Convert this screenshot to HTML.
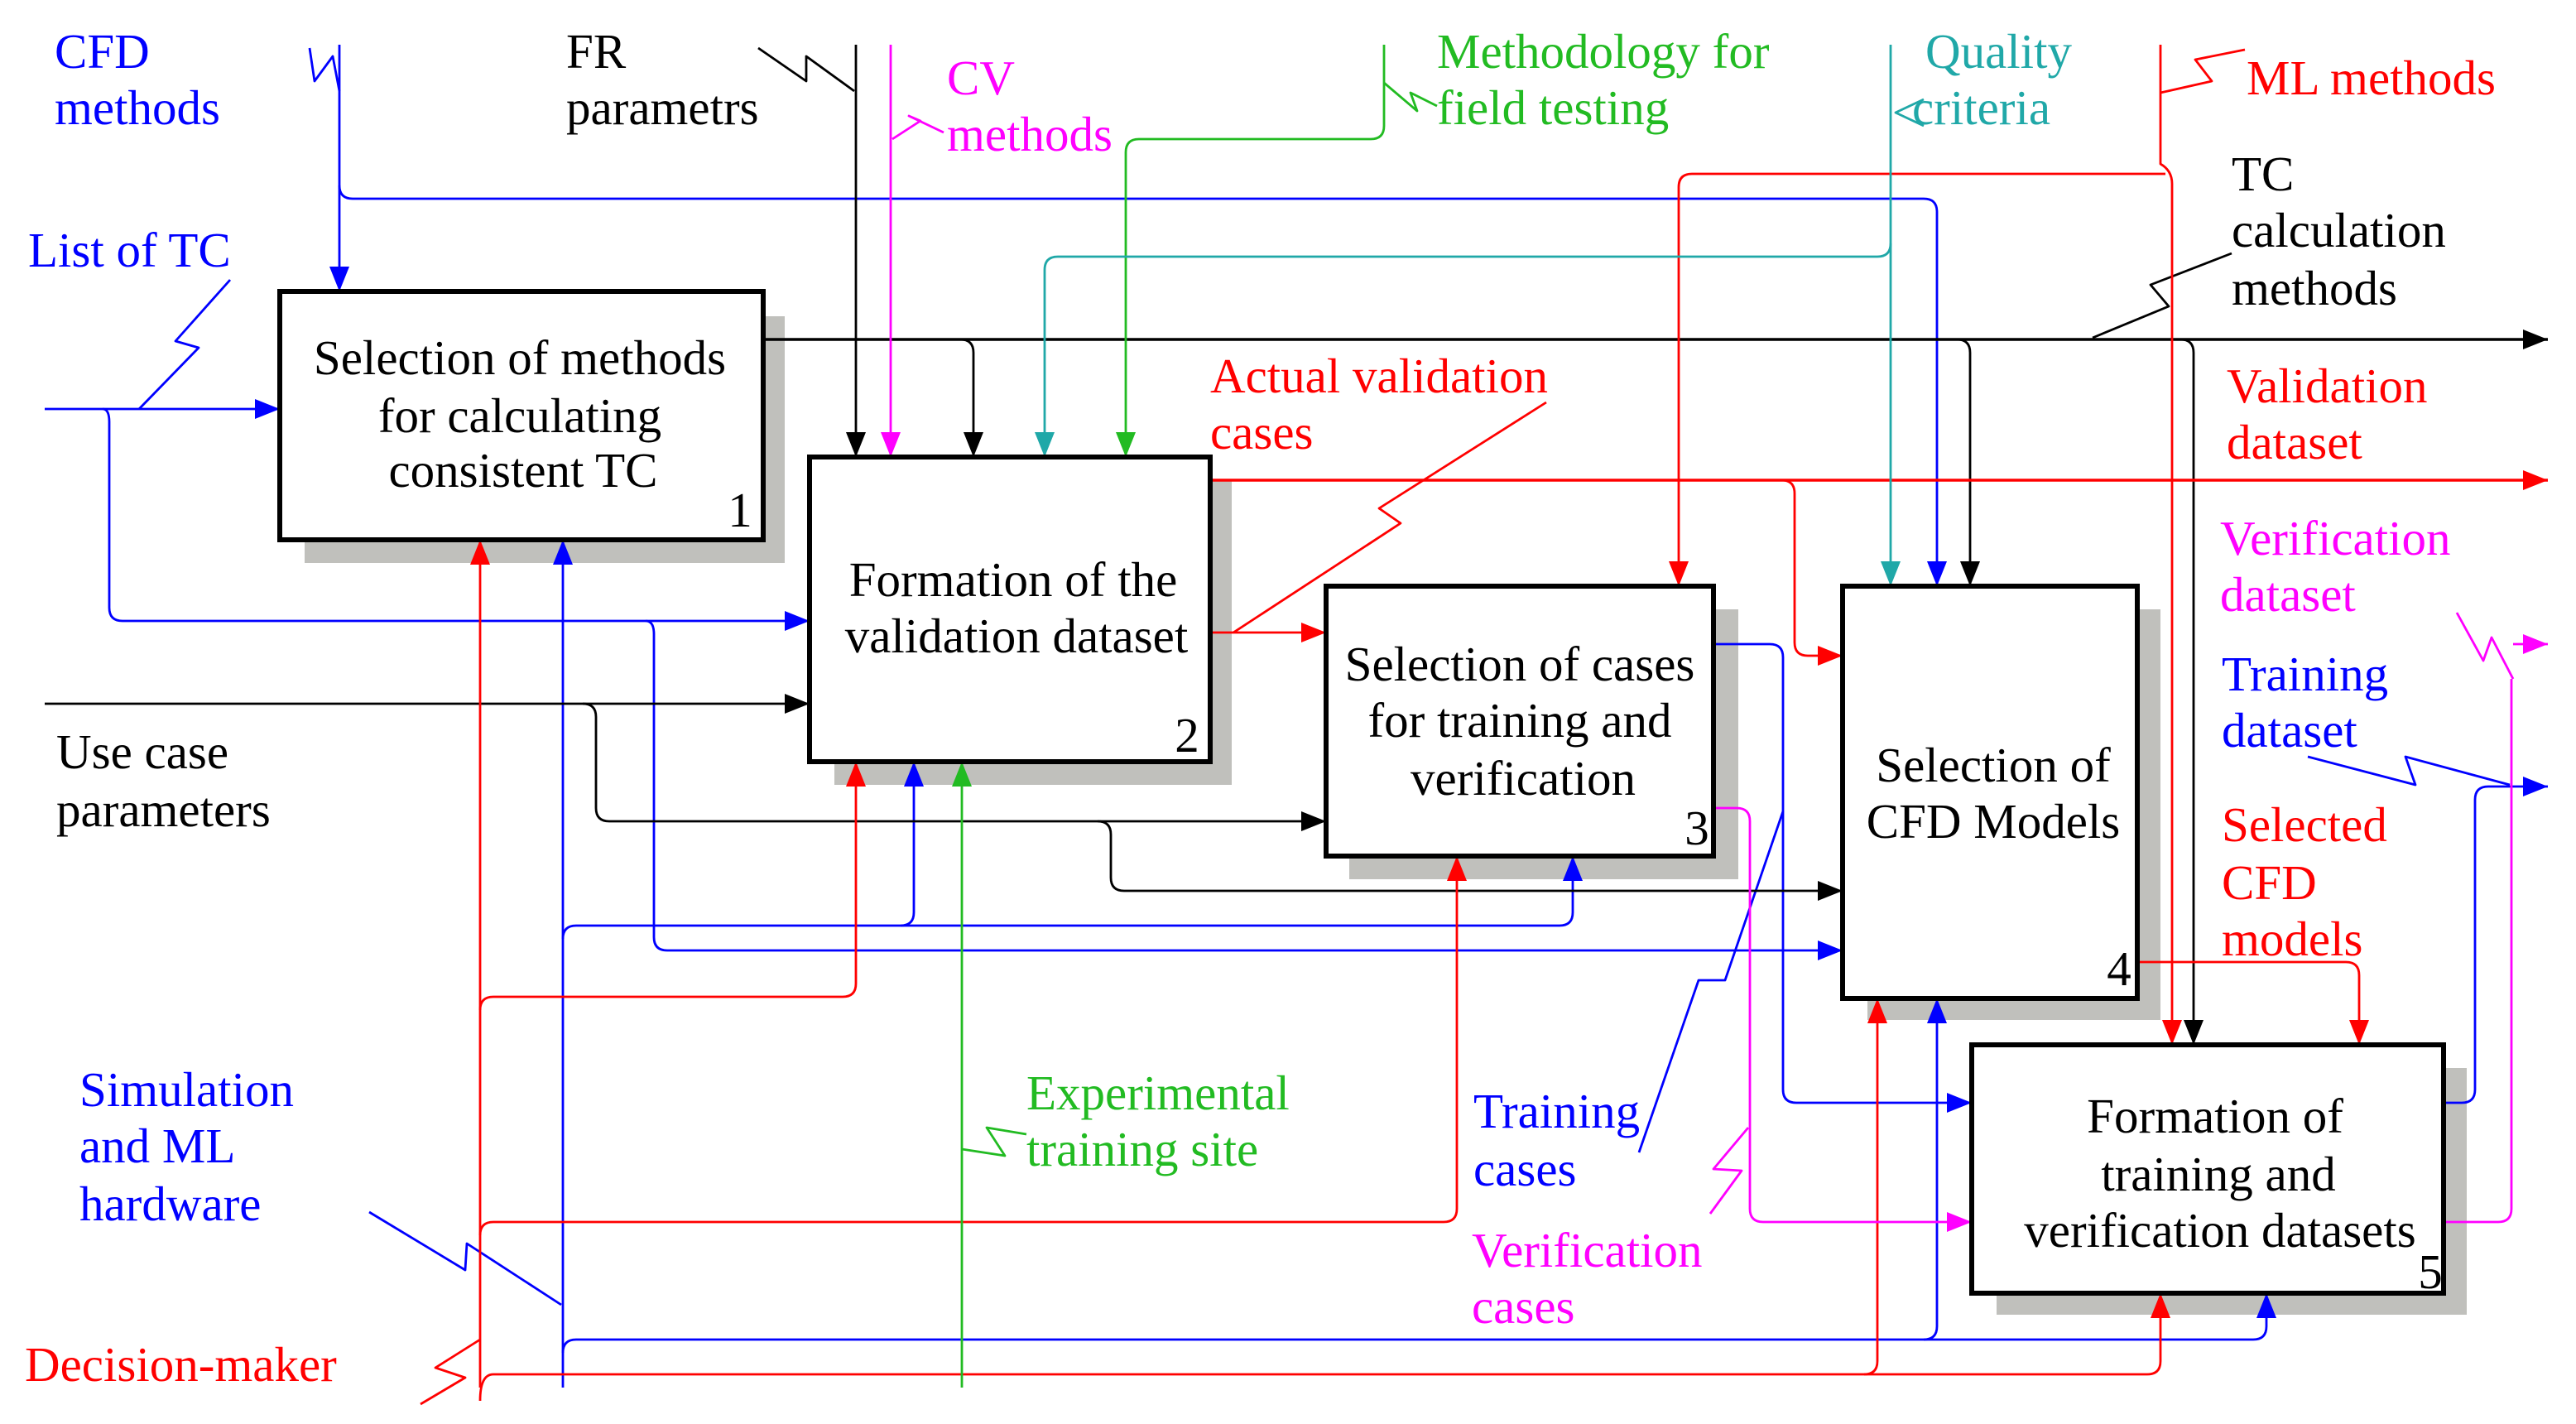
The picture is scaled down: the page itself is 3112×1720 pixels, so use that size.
<!DOCTYPE html>
<html><head><meta charset="utf-8"><style>
html,body{margin:0;padding:0;background:#fff;}
svg{display:block;}
text{font-family:"Liberation Serif",serif;font-size:29.5px;}
</style></head><body>
<svg width="3112" height="1720" viewBox="0 0 1556 860" xmlns="http://www.w3.org/2000/svg">
<defs>
<marker id="ab" markerWidth="16" markerHeight="12" refX="15" refY="6" orient="auto" markerUnits="userSpaceOnUse"><path d="M0,0 L15,6 L0,12z" fill="#0000ff"/></marker>
<marker id="ak" markerWidth="16" markerHeight="12" refX="15" refY="6" orient="auto" markerUnits="userSpaceOnUse"><path d="M0,0 L15,6 L0,12z" fill="#000"/></marker>
<marker id="ar" markerWidth="16" markerHeight="12" refX="15" refY="6" orient="auto" markerUnits="userSpaceOnUse"><path d="M0,0 L15,6 L0,12z" fill="#ff0000"/></marker>
<marker id="am" markerWidth="16" markerHeight="12" refX="15" refY="6" orient="auto" markerUnits="userSpaceOnUse"><path d="M0,0 L15,6 L0,12z" fill="#ff00ff"/></marker>
<marker id="ag" markerWidth="16" markerHeight="12" refX="15" refY="6" orient="auto" markerUnits="userSpaceOnUse"><path d="M0,0 L15,6 L0,12z" fill="#22bb22"/></marker>
<marker id="at" markerWidth="16" markerHeight="12" refX="15" refY="6" orient="auto" markerUnits="userSpaceOnUse"><path d="M0,0 L15,6 L0,12z" fill="#20a8a8"/></marker>
</defs>

<g fill="#c0c0bc">
<rect x="184" y="191" width="290" height="149"/>
<rect x="504" y="290" width="240" height="184"/>
<rect x="815" y="368" width="235" height="163"/>
<rect x="1128" y="368" width="177" height="248"/>
<rect x="1206" y="645" width="284" height="149"/>
</g>

<g fill="none" stroke-width="1.4" stroke-linejoin="round">
<g stroke="#0000ff">
<path d="M205,27 V176" marker-end="url(#ab)"/>
<polyline points="187,29 190,49 201,34 205,55"/>
<path d="M205,112 Q205,120 213,120 H1162 Q1170,120 1170,128 V354" marker-end="url(#ab)"/>
<path d="M27,247 H169" marker-end="url(#ab)"/>
<path d="M62,247 Q66,247 66,255 V367 Q66,375 74,375 H489" marker-end="url(#ab)"/>
<path d="M390,375 Q395,375 395,383 V566 Q395,574 403,574 H1113" marker-end="url(#ab)"/>
<path d="M340,838 V326" marker-end="url(#ab)"/>
<path d="M340,567 Q340,559 348,559 H942 Q950,559 950,551 V517" marker-end="url(#ab)"/>
<path d="M544,559 Q552,559 552,551 V460" marker-end="url(#ab)"/>
<path d="M340,817 Q340,809 348,809 H1361 Q1369,809 1369,801 V781" marker-end="url(#ab)"/>
<path d="M1162,809 Q1170,809 1170,801 V603" marker-end="url(#ab)"/>
<path d="M1035,389 H1069 Q1077,389 1077,397 V658 Q1077,666 1085,666 H1191" marker-end="url(#ab)"/>
<path d="M1476,666 H1487 Q1495,666 1495,658 V483 Q1495,475 1503,475 H1539" marker-end="url(#ab)"/>
<polyline points="139,169 106,206 120,210 84,247"/>
<polyline points="223,732 281,767 282,751 339,788"/>
<polyline points="990,696 1026,592 1042,592 1077,490"/>
<polyline points="1394,457 1459,474 1453,457 1516,474"/>
</g>
<g stroke="#000">
<path d="M517,27 V276" marker-end="url(#ak)"/>
<polyline points="458,29 487,49 487,34 516,55"/>
<path d="M461,205 H1539" stroke-width="1.7" marker-end="url(#ak)"/>
<path d="M580,205 Q588,205 588,213 V276" marker-end="url(#ak)"/>
<path d="M1182,205 Q1190,205 1190,213 V354" marker-end="url(#ak)"/>
<path d="M1317,205 Q1325,205 1325,213 V631" marker-end="url(#ak)"/>
<polyline points="1264,204 1310,185 1299,172 1348,153"/>
<path d="M27,425 H489" marker-end="url(#ak)"/>
<path d="M352,425 Q360,425 360,433 V488 Q360,496 368,496 H801" marker-end="url(#ak)"/>
<path d="M663,496 Q671,496 671,504 V530 Q671,538 679,538 H1113" marker-end="url(#ak)"/>
</g>
<g stroke="#ff0000">
<path d="M731,290 H1539" stroke-width="1.7" marker-end="url(#ar)"/>
<path d="M1076,290 Q1084,290 1084,298 V388 Q1084,396 1092,396 H1113" marker-end="url(#ar)"/>
<path d="M731,382 H801" marker-end="url(#ar)"/>
<polyline points="934,243 833,307 846,316 745,382"/>
<path d="M1305,27 V99 Q1312,103 1312,111 V631" marker-end="url(#ar)"/>
<polyline points="1305,56 1336,49 1326,36 1356,30"/>
<path d="M1308,105 H1022 Q1014,105 1014,113 V354" marker-end="url(#ar)"/>
<path d="M290,838 V326" marker-end="url(#ar)"/>
<path d="M290,610 Q290,602 298,602 H509 Q517,602 517,594 V460" marker-end="url(#ar)"/>
<path d="M290,746 Q290,738 298,738 H872 Q880,738 880,730 V517" marker-end="url(#ar)"/>
<path d="M290,846 Q290,830 298,830 H1297 Q1305,830 1305,822 V781" marker-end="url(#ar)"/>
<path d="M1126,830 Q1134,830 1134,822 V603" marker-end="url(#ar)"/>
<path d="M1291,581 H1417 Q1425,581 1425,589 V631" marker-end="url(#ar)"/>
<polyline points="254,848 281,832 263,826 290,809"/>
</g>
<g stroke="#ff00ff">
<path d="M538,27 V276" marker-end="url(#am)"/>
<polyline points="539,84 556,73 549,70 570,80"/>
<path d="M1035,488 H1049 Q1057,488 1057,496 V730 Q1057,738 1065,738 H1191" marker-end="url(#am)"/>
<path d="M1476,738 H1509 Q1517,738 1517,730 V410"/>
<polyline points="1518,410 1505,385 1500,399 1484,370"/>
<path d="M1518,389 H1539" marker-end="url(#am)"/>
<polyline points="1056,681 1035,706 1052,707 1033,733"/>
</g>
<g stroke="#22bb22">
<path d="M836,27 V76 Q836,84 828,84 H688 Q680,84 680,92 V276" marker-end="url(#ag)"/>
<polyline points="836,50 856,67 852,56 868,64"/>
<path d="M581,838 V460" marker-end="url(#ag)"/>
<polyline points="581,694 607,698 596,681 620,685"/>
</g>
<g stroke="#20a8a8">
<path d="M1142,27 V354" marker-end="url(#at)"/>
<path d="M1142,147 Q1142,155 1134,155 H639 Q631,155 631,163 V276" marker-end="url(#at)"/>
<polyline points="1162,60 1145,68 1162,76"/>
</g>
</g>

<g fill="#fff" stroke="#000" stroke-width="3">
<rect x="169" y="176" width="292" height="150"/>
<rect x="489" y="276" width="242" height="184"/>
<rect x="801" y="354" width="234" height="163"/>
<rect x="1113" y="354" width="178" height="249"/>
<rect x="1191" y="631" width="285" height="150"/>
</g>

<g fill="#000" text-anchor="middle">
<text x="314" y="226">Selection of methods</text>
<text x="314" y="261">for calculating</text>
<text x="316" y="294">consistent TC</text>
<text x="612" y="360">Formation of the</text>
<text x="614" y="394">validation dataset</text>
<text x="918" y="411">Selection of cases</text>
<text x="918" y="445">for training and</text>
<text x="920" y="480">verification</text>
<text x="1204" y="472">Selection of</text>
<text x="1204" y="506">CFD Models</text>
<text x="1338" y="684">Formation of</text>
<text x="1340" y="719">training and</text>
<text x="1341" y="753">verification datasets</text>
<text x="447" y="318">1</text>
<text x="717" y="454">2</text>
<text x="1025" y="510">3</text>
<text x="1280" y="595">4</text>
<text x="1468" y="778">5</text>
</g>

<g>
<text fill="#0000ff"><tspan x="33" y="41">CFD</tspan><tspan x="33" y="75">methods</tspan></text>
<text fill="#0000ff" x="17" y="161">List of TC</text>
<text fill="#000"><tspan x="342" y="41">FR</tspan><tspan x="342" y="75">parametrs</tspan></text>
<text fill="#ff00ff"><tspan x="572" y="57">CV</tspan><tspan x="572" y="91">methods</tspan></text>
<text fill="#22bb22"><tspan x="868" y="41">Methodology for</tspan><tspan x="868" y="75">field testing</tspan></text>
<text fill="#20a8a8"><tspan x="1163" y="41">Quality</tspan><tspan x="1155" y="75">criteria</tspan></text>
<text fill="#ff0000" x="1357" y="57">ML methods</text>
<text fill="#000"><tspan x="1348" y="115">TC</tspan><tspan x="1348" y="149">calculation</tspan><tspan x="1348" y="184">methods</tspan></text>
<text fill="#ff0000"><tspan x="731" y="237">Actual validation</tspan><tspan x="731" y="271">cases</tspan></text>
<text fill="#ff0000"><tspan x="1345" y="243">Validation</tspan><tspan x="1345" y="277">dataset</tspan></text>
<text fill="#ff00ff"><tspan x="1341" y="335">Verification</tspan><tspan x="1341" y="369">dataset</tspan></text>
<text fill="#0000ff"><tspan x="1342" y="417">Training</tspan><tspan x="1342" y="451">dataset</tspan></text>
<text fill="#ff0000"><tspan x="1342" y="508">Selected</tspan><tspan x="1342" y="543">CFD</tspan><tspan x="1342" y="577">models</tspan></text>
<text fill="#000"><tspan x="34" y="464">Use case</tspan><tspan x="34" y="499">parameters</tspan></text>
<text fill="#0000ff"><tspan x="48" y="668">Simulation</tspan><tspan x="48" y="702">and ML</tspan><tspan x="48" y="737">hardware</tspan></text>
<text fill="#22bb22"><tspan x="620" y="670">Experimental</tspan><tspan x="620" y="704">training site</tspan></text>
<text fill="#0000ff"><tspan x="890" y="681">Training</tspan><tspan x="890" y="716">cases</tspan></text>
<text fill="#ff00ff"><tspan x="889" y="765">Verification</tspan><tspan x="889" y="799">cases</tspan></text>
<text fill="#ff0000" x="15" y="834">Decision-maker</text>
</g>
</svg>
</body></html>
